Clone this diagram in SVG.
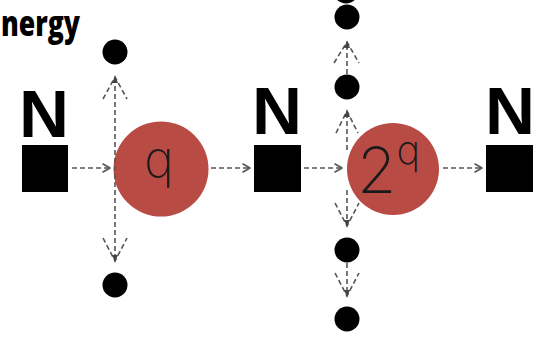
<svg xmlns="http://www.w3.org/2000/svg" width="545" height="337" viewBox="0 0 545 337">
<style>
.bg{fill:#ffffff}
.sq{fill:#000000}
.dot{fill:#000000}
.circ{fill:#b94b45}
.lbl{font-family:"Liberation Sans",Arial,sans-serif;font-weight:bold;font-size:66px;fill:#000000;text-anchor:middle}
.title{font-family:"Open Sans","Liberation Sans",sans-serif;font-weight:800;font-size:35px;fill:#000000}
.q{font-family:Inter,Roboto,"DejaVu Sans",sans-serif;font-weight:200;fill:#1a1a1a}
.dash{stroke:#555555;stroke-width:1.6;stroke-dasharray:5 3;fill:none}
.chev{stroke:#555555;stroke-width:1.6;fill:none;stroke-linecap:round;stroke-linejoin:round}
.tip{fill:#444444}
</style>
<rect class="bg" x="0" y="0" width="545" height="337"/>
<text class="title" x="1" y="36" textLength="79" lengthAdjust="spacingAndGlyphs">nergy</text>

<g id="n1"><text class="lbl" x="44" y="137" textLength="50" lengthAdjust="spacingAndGlyphs">N</text><rect class="sq" x="22" y="145" width="46" height="47"/></g>
<g id="n2"><text class="lbl" x="277" y="134" textLength="50" lengthAdjust="spacingAndGlyphs">N</text><rect class="sq" x="254" y="145" width="47" height="47"/></g>
<g id="n3"><text class="lbl" x="510" y="134" textLength="50" lengthAdjust="spacingAndGlyphs">N</text><rect class="sq" x="486" y="145" width="47" height="47"/></g>

<g id="c1"><circle class="circ" cx="161" cy="169" r="47.5"/><text class="q" x="159" y="177" font-size="50" text-anchor="middle">q</text></g>
<g id="c2"><circle class="circ" cx="393" cy="169" r="46"/><text class="q" x="357" y="193" font-size="64">2<tspan font-size="40" dy="-29">q</tspan></text></g>

<g id="d1"><circle class="dot" cx="115" cy="52" r="12.5"/></g>
<g id="d2"><circle class="dot" cx="115" cy="285" r="12.5"/></g>
<g id="d3"><circle class="dot" cx="346" cy="-9" r="12.5"/></g>
<g id="d4"><circle class="dot" cx="347" cy="17" r="12.5"/></g>
<g id="d5"><circle class="dot" cx="347" cy="87" r="12.5"/></g>
<g id="d6"><circle class="dot" cx="347" cy="250" r="12.5"/></g>
<g id="d7"><circle class="dot" cx="347" cy="319" r="12.5"/></g>

<g id="connectors">
  <line class="dash" x1="72" y1="168" x2="109" y2="168"/><path class="chev" d="M103 164 L110 168 L103 172"/>
  <line class="dash" x1="211" y1="168" x2="249" y2="168"/><path class="chev" d="M243 164 L250 168 L243 172"/>
  <line class="dash" x1="304" y1="168" x2="341" y2="168"/><path class="chev" d="M335 164 L342 168 L335 172"/>
  <line class="dash" x1="443" y1="168" x2="481" y2="168"/><path class="chev" d="M475 164 L482 168 L475 172"/>
  <line class="dash" x1="115" y1="78" x2="115" y2="260"/>
  <path class="dash" d="M103 99 L115 77 L127 99"/><path class="tip" d="M115 76 L112 83 L118 83 Z"/>
  <path class="dash" d="M103 238 L115 261 L127 238"/><path class="tip" d="M115 262 L112 255 L118 255 Z"/>
  <line class="dash" x1="347" y1="74" x2="347" y2="43"/>
  <path class="dash" d="M334 63 L347 42 L359 63"/><path class="tip" d="M347 41 L344 48 L350 48 Z"/>
  <line class="dash" x1="347" y1="150" x2="347" y2="112"/>
  <path class="dash" d="M336 133 L347 111 L358 133"/><path class="tip" d="M347 110 L344 117 L350 117 Z"/>
  <line class="dash" x1="347" y1="190" x2="347" y2="225"/>
  <path class="dash" d="M335 203 L347 226 L359 203"/><path class="tip" d="M347 227 L344 220 L350 220 Z"/>
  <line class="dash" x1="347" y1="263" x2="347" y2="295"/>
  <path class="dash" d="M335 273 L347 296 L359 273"/><path class="tip" d="M347 297 L344 290 L350 290 Z"/>
</g>
</svg>
